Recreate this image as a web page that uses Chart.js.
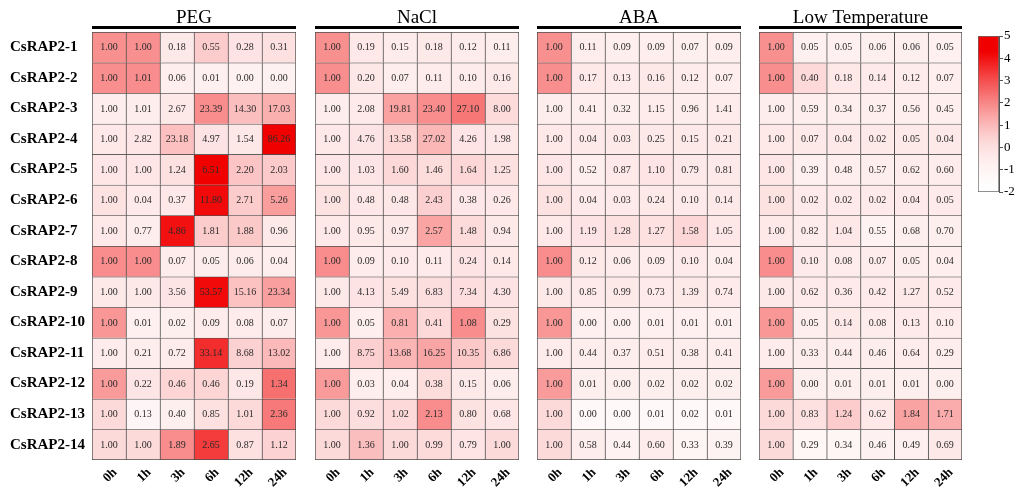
<!DOCTYPE html>
<html>
<head>
<meta charset="utf-8">
<script src="https://cdn.jsdelivr.net/npm/chart.js@4.4.1/dist/chart.umd.min.js"></script>
<style>
  html, body { margin: 0; padding: 0; background: #fff; }
  #wrap { position: relative; width: 1019px; height: 488px; overflow: hidden; }
  #wrap canvas { position: absolute; top: 0; }
</style>
</head>
<body>
<div id="wrap">
  <canvas id="pPEG" width="300" height="488" style="left:0px"></canvas>
  <canvas id="pNaCl" width="220" height="488" style="left:305px"></canvas>
  <canvas id="pABA" width="220" height="488" style="left:527px"></canvas>
  <canvas id="pLT" width="220" height="488" style="left:749px"></canvas>
  <canvas id="scale" width="51" height="190" style="left:968px; top:20px"></canvas>
</div>
<script>
// Sampling time points and genes
const times = ['0h', '1h', '3h', '6h', '12h', '24h'];
const genes = ['CsRAP2-1', 'CsRAP2-2', 'CsRAP2-3', 'CsRAP2-4', 'CsRAP2-5', 'CsRAP2-6', 'CsRAP2-7',
               'CsRAP2-8', 'CsRAP2-9', 'CsRAP2-10', 'CsRAP2-11', 'CsRAP2-12', 'CsRAP2-13', 'CsRAP2-14'];

// Relative expression (fold change vs 0h), one row per gene
const peg = [
  [1.00, 1.00, 0.18, 0.55, 0.28, 0.31],
  [1.00, 1.01, 0.06, 0.01, 0.00, 0.00],
  [1.00, 1.01, 2.67, 23.39, 14.30, 17.03],
  [1.00, 2.82, 23.18, 4.97, 1.54, 86.26],
  [1.00, 1.00, 1.24, 6.51, 2.20, 2.03],
  [1.00, 0.04, 0.37, 11.80, 2.71, 5.26],
  [1.00, 0.77, 4.86, 1.81, 1.88, 0.96],
  [1.00, 1.00, 0.07, 0.05, 0.06, 0.04],
  [1.00, 1.00, 3.56, 53.57, 15.16, 23.34],
  [1.00, 0.01, 0.02, 0.09, 0.08, 0.07],
  [1.00, 0.21, 0.72, 33.14, 8.68, 13.02],
  [1.00, 0.22, 0.46, 0.46, 0.19, 1.34],
  [1.00, 0.13, 0.40, 0.85, 1.01, 2.36],
  [1.00, 1.00, 1.89, 2.65, 0.87, 1.12]
];
const nacl = [
  [1.00, 0.19, 0.15, 0.18, 0.12, 0.11],
  [1.00, 0.20, 0.07, 0.11, 0.10, 0.16],
  [1.00, 2.08, 19.81, 23.40, 27.10, 8.00],
  [1.00, 4.76, 13.58, 27.02, 4.26, 1.98],
  [1.00, 1.03, 1.60, 1.46, 1.64, 1.25],
  [1.00, 0.48, 0.48, 2.43, 0.38, 0.26],
  [1.00, 0.95, 0.97, 2.57, 1.48, 0.94],
  [1.00, 0.09, 0.10, 0.11, 0.24, 0.14],
  [1.00, 4.13, 5.49, 6.83, 7.34, 4.30],
  [1.00, 0.05, 0.81, 0.41, 1.08, 0.29],
  [1.00, 8.75, 13.68, 16.25, 10.35, 6.86],
  [1.00, 0.03, 0.04, 0.38, 0.15, 0.06],
  [1.00, 0.92, 1.02, 2.13, 0.80, 0.68],
  [1.00, 1.36, 1.00, 0.99, 0.79, 1.00]
];
const aba = [
  [1.00, 0.11, 0.09, 0.09, 0.07, 0.09],
  [1.00, 0.17, 0.13, 0.16, 0.12, 0.07],
  [1.00, 0.41, 0.32, 1.15, 0.96, 1.41],
  [1.00, 0.04, 0.03, 0.25, 0.15, 0.21],
  [1.00, 0.52, 0.87, 1.10, 0.79, 0.81],
  [1.00, 0.04, 0.03, 0.24, 0.10, 0.14],
  [1.00, 1.19, 1.28, 1.27, 1.58, 1.05],
  [1.00, 0.12, 0.06, 0.09, 0.10, 0.04],
  [1.00, 0.85, 0.99, 0.73, 1.39, 0.74],
  [1.00, 0.00, 0.00, 0.01, 0.01, 0.01],
  [1.00, 0.44, 0.37, 0.51, 0.38, 0.41],
  [1.00, 0.01, 0.00, 0.02, 0.02, 0.02],
  [1.00, 0.00, 0.00, 0.01, 0.02, 0.01],
  [1.00, 0.58, 0.44, 0.60, 0.33, 0.39]
];
const lowTemp = [
  [1.00, 0.05, 0.05, 0.06, 0.06, 0.05],
  [1.00, 0.40, 0.18, 0.14, 0.12, 0.07],
  [1.00, 0.59, 0.34, 0.37, 0.56, 0.45],
  [1.00, 0.07, 0.04, 0.02, 0.05, 0.04],
  [1.00, 0.39, 0.48, 0.57, 0.62, 0.60],
  [1.00, 0.02, 0.02, 0.02, 0.04, 0.05],
  [1.00, 0.82, 1.04, 0.55, 0.68, 0.70],
  [1.00, 0.10, 0.08, 0.07, 0.05, 0.04],
  [1.00, 0.62, 0.36, 0.42, 1.27, 0.52],
  [1.00, 0.05, 0.14, 0.08, 0.13, 0.10],
  [1.00, 0.33, 0.44, 0.46, 0.64, 0.29],
  [1.00, 0.00, 0.01, 0.01, 0.01, 0.00],
  [1.00, 0.83, 1.24, 0.62, 1.84, 1.71],
  [1.00, 0.29, 0.34, 0.46, 0.49, 0.69]
];

// Colour-bar range (row z-score)
const scaleMin = -2, scaleMax = 5;

const conditions = [peg, nacl, aba, lowTemp];

// Row-wise z-scores across all four treatments
const zRows = genes.map((g, r) => {
  const all = conditions.flatMap(cond => cond[r]);
  const m = all.reduce((a, b) => a + b, 0) / all.length;
  const sd = Math.sqrt(all.reduce((a, b) => a + (b - m) * (b - m), 0) / (all.length - 1));
  return all.map(v => sd > 0 ? (v - m) / sd : 0);
});

// White -> pale pink (0) -> red
function heat(z) {
  let t;
  if (z <= 0) {
    const f = Math.max(0, (z - scaleMin) / (0 - scaleMin));
    t = 0.12 * Math.pow(f, 1.5);
  } else {
    t = 0.12 + 0.88 * Math.pow(Math.min(1, z / 4.3), 1.2);
  }
  const r = Math.round(255 - 14 * t);
  const gb = Math.round(255 * (1 - t));
  return `rgb(${r},${gb},${gb})`;
}

const SERIF = '"Liberation Serif", "Times New Roman", serif';

// Panel heading with a thick rule under it
const panelTitle = {
  id: 'panelTitle',
  afterDraw(chart, args, opts) {
    const { ctx, chartArea } = chart;
    ctx.save();
    ctx.fillStyle = '#000';
    ctx.fillRect(chartArea.left, 26, chartArea.right - chartArea.left, 3);
    ctx.font = `19px ${SERIF}`;
    ctx.textAlign = 'center';
    ctx.textBaseline = 'alphabetic';
    ctx.fillText(opts.text, (chartArea.left + chartArea.right) / 2, 23);
    ctx.restore();
  }
};

// Value printed in every cell
const cellText = {
  id: 'cellText',
  afterDatasetsDraw(chart) {
    const ctx = chart.ctx;
    ctx.save();
    ctx.font = `10px ${SERIF}`;
    ctx.fillStyle = '#2a2a2a';
    ctx.textAlign = 'center';
    ctx.textBaseline = 'middle';
    chart.data.datasets.forEach((ds, r) => {
      chart.getDatasetMeta(r).data.forEach((el, c) => {
        const p = el.getProps(['x', 'y', 'base'], true);
        ctx.fillText(ds.values[c].toFixed(2), p.x, (p.y + p.base) / 2 + 0.5);
      });
    });
    ctx.restore();
  }
};

function makePanel(id, title, values, k, showRows, padLeft, padRight) {
  const datasets = genes.map((g, r) => ({
    label: g,
    values: values[r],
    data: times.map(() => [r, r + 1]),
    backgroundColor: times.map((t, c) => heat(zRows[r][k * 6 + c])),
    borderColor: '#4d4d4d',
    borderWidth: (ctx) => ({
      top: 1,
      left: 1,
      right: ctx.dataIndex === times.length - 1 ? 1 : 0,
      bottom: r === genes.length - 1 ? 1 : 0
    }),
    borderSkipped: false,
    barPercentage: 1,
    categoryPercentage: 1,
    grouped: false
  }));

  return new Chart(document.getElementById(id), {
    type: 'bar',
    data: { labels: times, datasets },
    options: {
      responsive: false,
      animation: false,
      events: [],
      layout: { padding: { left: padLeft, right: padRight, top: 32, bottom: 0 } },
      plugins: {
        legend: { display: false },
        tooltip: { enabled: false },
        panelTitle: { text: title }
      },
      scales: {
        x: {
          type: 'category',
          grid: { display: false },
          border: { display: false },
          ticks: {
            minRotation: 45, maxRotation: 45, autoSkip: false,
            padding: -3,
            labelOffset: 6,
            color: '#000',
            font: { family: SERIF, size: 13, weight: 'bold' }
          },
          afterFit: (s) => { s.height = 28; }
        },
        y: {
          type: 'linear',
          min: 0, max: genes.length,
          reverse: true,
          display: showRows,
          grid: { display: false },
          border: { display: false },
          afterBuildTicks: (s) => { s.ticks = genes.map((g, i) => ({ value: i + 0.5 })); },
          ticks: {
            autoSkip: false,
            crossAlign: 'far',
            padding: 0,
            color: '#000',
            font: { family: SERIF, size: 15, weight: 'bold' },
            callback: (v) => genes[Math.floor(v)]
          },
          afterFit: (s) => { s.width = showRows ? 82 : 0; }
        }
      }
    },
    plugins: [panelTitle, cellText]
  });
}

makePanel('pPEG', 'PEG', peg, 0, true, 10, 4);
makePanel('pNaCl', 'NaCl', nacl, 1, false, 10, 6);
makePanel('pABA', 'ABA', aba, 2, false, 10, 6);
makePanel('pLT', 'Low Temperature', lowTemp, 3, false, 10, 7);

// Colour bar
new Chart(document.getElementById('scale'), {
  type: 'bar',
  data: {
    labels: [''],
    datasets: [{
      data: [[scaleMin, scaleMax]],
      backgroundColor: (ctx) => {
        const area = ctx.chart.chartArea;
        if (!area) return heat(0);
        const g = ctx.chart.ctx.createLinearGradient(0, area.bottom, 0, area.top);
        for (let i = 0; i <= 28; i++) {
          g.addColorStop(i / 28, heat(scaleMin + (scaleMax - scaleMin) * i / 28));
        }
        return g;
      },
      borderColor: '#6a6a6a',
      borderWidth: 1,
      borderSkipped: false,
      barPercentage: 1,
      categoryPercentage: 1
    }]
  },
  options: {
    responsive: false,
    animation: false,
    events: [],
    layout: { padding: { left: 10, right: 0, top: 16, bottom: 18 } },
    plugins: { legend: { display: false }, tooltip: { enabled: false } },
    scales: {
      x: { display: false },
      y: {
        position: 'right',
        min: scaleMin, max: scaleMax,
        grid: { drawOnChartArea: false, tickLength: 4, color: '#555' },
        border: { display: true, color: '#555' },
        ticks: {
          stepSize: 1,
          padding: 1,
          color: '#000',
          font: { family: SERIF, size: 13 }
        },
        afterFit: (s) => { s.width = 20; }
      }
    }
  }
});
</script>
</body>
</html>
